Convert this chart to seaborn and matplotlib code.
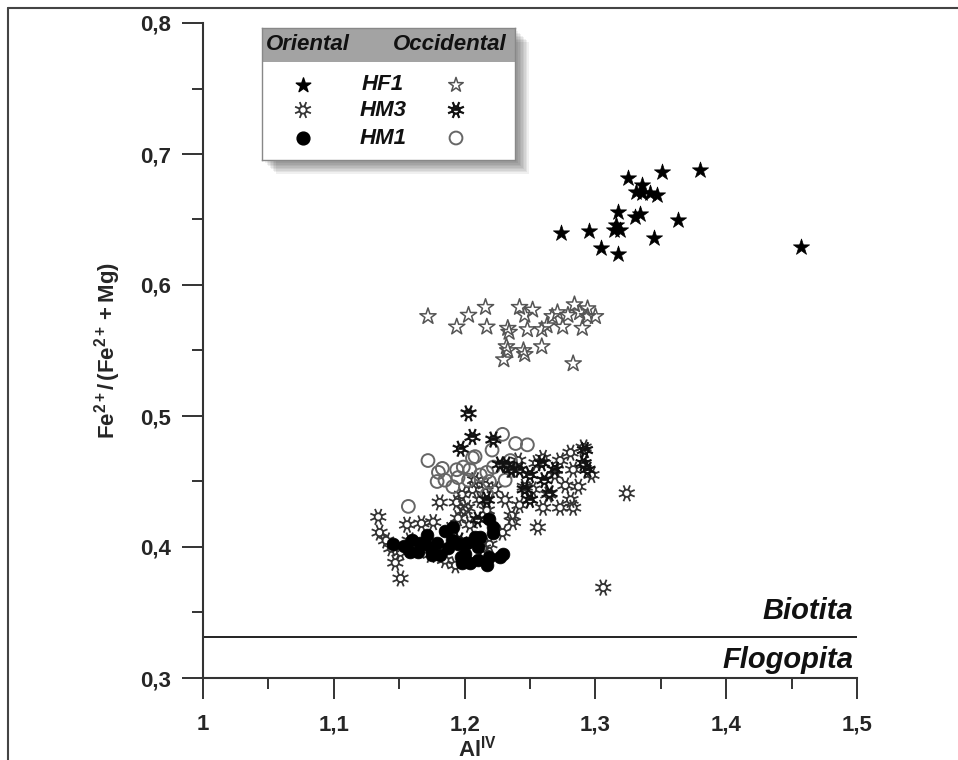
import numpy as np
import pandas as pd
import matplotlib
matplotlib.use("Agg")
import matplotlib.pyplot as plt
import seaborn as sns
from matplotlib.path import Path
from matplotlib.patches import Rectangle
from matplotlib.ticker import MultipleLocator, FuncFormatter

sns.set_theme(style="ticks")
plt.rcParams["font.family"] = ["Liberation Sans", "DejaVu Sans"]
plt.rcParams["mathtext.fontset"] = "custom"
plt.rcParams["mathtext.bf"] = "Liberation Sans:bold"
plt.rcParams["mathtext.rm"] = "Liberation Sans"
plt.rcParams["mathtext.it"] = "Liberation Sans:italic"

# ---------------- data ----------------
hf1_or_x = [1.274, 1.295, 1.304, 1.317, 1.314, 1.319, 1.317, 1.316, 1.325, 1.331,
            1.336, 1.336, 1.342, 1.347, 1.351, 1.330, 1.334, 1.345, 1.363, 1.380, 1.457]
hf1_or_y = [0.640, 0.641, 0.628, 0.656, 0.642, 0.642, 0.624, 0.646, 0.682, 0.671,
            0.676, 0.670, 0.670, 0.669, 0.686, 0.652, 0.654, 0.636, 0.650, 0.688, 0.629]

hf1_oc_x = [1.172, 1.194, 1.203, 1.216, 1.217, 1.233, 1.234, 1.242, 1.246, 1.252,
            1.248, 1.232, 1.233, 1.230, 1.245, 1.246, 1.259, 1.259, 1.263, 1.267,
            1.271, 1.275, 1.279, 1.284, 1.288, 1.290, 1.294, 1.294, 1.300, 1.283]
hf1_oc_y = [0.576, 0.568, 0.577, 0.583, 0.568, 0.567, 0.564, 0.583, 0.577, 0.581,
            0.566, 0.553, 0.550, 0.543, 0.550, 0.547, 0.553, 0.566, 0.569, 0.576,
            0.579, 0.568, 0.577, 0.585, 0.579, 0.567, 0.582, 0.576, 0.576, 0.540]

hm3_or_x = [1.134, 1.135, 1.144, 1.140, 1.151, 1.147, 1.151, 1.156, 1.158, 1.167,
            1.176, 1.181, 1.194, 1.198, 1.195, 1.200, 1.189, 1.204, 1.212, 1.202,
            1.217, 1.206, 1.229, 1.236, 1.237, 1.235, 1.241, 1.246, 1.252, 1.255,
            1.260, 1.256, 1.260, 1.273, 1.283, 1.281, 1.287, 1.291, 1.281, 1.283,
            1.297, 1.324, 1.306, 1.269, 1.273, 1.277, 1.264, 1.242, 1.223, 1.216,
            1.208, 1.231, 1.174, 1.185, 1.193, 1.214, 1.219]
hm3_or_y = [0.423, 0.411, 0.399, 0.405, 0.396, 0.388, 0.376, 0.417, 0.405, 0.418,
            0.419, 0.434, 0.434, 0.440, 0.422, 0.428, 0.413, 0.417, 0.436, 0.430,
            0.428, 0.444, 0.411, 0.424, 0.419, 0.459, 0.466, 0.446, 0.444, 0.464,
            0.468, 0.415, 0.430, 0.430, 0.430, 0.436, 0.446, 0.476, 0.472, 0.459,
            0.455, 0.441, 0.369, 0.455, 0.466, 0.447, 0.440, 0.432, 0.444, 0.447,
            0.451, 0.436, 0.394, 0.390, 0.386, 0.399, 0.402]

hm3_oc_x = [1.203, 1.206, 1.222, 1.197, 1.227, 1.232, 1.236, 1.246, 1.259, 1.261,
            1.265, 1.292, 1.291, 1.294, 1.217, 1.210, 1.250, 1.242, 1.269, 1.250, 1.196]
hm3_oc_y = [0.502, 0.484, 0.482, 0.475, 0.463, 0.463, 0.459, 0.444, 0.464, 0.451,
            0.441, 0.474, 0.464, 0.459, 0.436, 0.421, 0.455, 0.459, 0.459, 0.436, 0.405]

hm1_or_x = [1.145, 1.154, 1.160, 1.166, 1.164, 1.171, 1.174, 1.179, 1.181, 1.185,
            1.190, 1.191, 1.187, 1.195, 1.197, 1.200, 1.202, 1.204, 1.208, 1.210,
            1.210, 1.212, 1.217, 1.219, 1.219, 1.222, 1.222, 1.227, 1.229, 1.198,
            1.175, 1.158, 1.170]
hm1_or_y = [0.402, 0.401, 0.405, 0.403, 0.396, 0.409, 0.399, 0.403, 0.394, 0.412,
            0.405, 0.415, 0.399, 0.402, 0.392, 0.395, 0.403, 0.388, 0.408, 0.400,
            0.390, 0.408, 0.386, 0.392, 0.421, 0.415, 0.411, 0.392, 0.395, 0.388,
            0.394, 0.396, 0.402]

hm1_oc_x = [1.172, 1.157, 1.180, 1.183, 1.179, 1.185, 1.194, 1.199, 1.206, 1.204,
            1.203, 1.212, 1.217, 1.222, 1.221, 1.229, 1.239, 1.248, 1.208, 1.191,
            1.231, 1.219, 1.217, 1.235, 1.195]
hm1_oc_y = [0.466, 0.431, 0.457, 0.460, 0.450, 0.451, 0.459, 0.461, 0.468, 0.459,
            0.451, 0.455, 0.457, 0.461, 0.474, 0.486, 0.479, 0.478, 0.469, 0.446,
            0.451, 0.450, 0.440, 0.466, 0.453]

boundary_y = 0.331
x_ticks = [1.0, 1.1, 1.2, 1.3, 1.4, 1.5]
y_ticks = [0.3, 0.4, 0.5, 0.6, 0.7, 0.8]
field_labels = ["Biotita", "Flogopita"]
legend_rows = ["HF1", "HM3", "HM1"]
legend_cols = ["Oriental", "Occidental"]

# ---------------- markers ----------------
def gear_path():
    verts, codes = [], []
    t = np.linspace(0, 2 * np.pi, 25)
    for i, a in enumerate(t):
        verts.append((0.42 * np.cos(a), 0.42 * np.sin(a)))
        codes.append(Path.MOVETO if i == 0 else Path.LINETO)
    for k in range(8):
        a = k * np.pi / 4 + np.pi / 8
        verts += [(0.5 * np.cos(a), 0.5 * np.sin(a)), (np.cos(a), np.sin(a))]
        codes += [Path.MOVETO, Path.LINETO]
    return Path(verts, codes)

def half_disk_path():
    t = np.linspace(0, np.pi, 15)
    verts = [(np.cos(a), np.sin(a)) for a in t] + [(1.0, 0.0)]
    codes = [Path.MOVETO] + [Path.LINETO] * (len(t) - 1) + [Path.CLOSEPOLY]
    return Path(verts, codes)

GEAR = gear_path()
HALF = half_disk_path()
S_STAR = 150
S_CIRC = 85
S_GEAR = 130
S_HALF = S_GEAR * 0.42 ** 2

W, H = 958, 760
fig = plt.figure(figsize=(W / 100, H / 100), dpi=100)
ax = fig.add_axes([203 / W, 1 - 678 / H, 654 / W, 655 / H])

def plot_group(x, y, ax, **kw):
    df = pd.DataFrame({"x": x, "y": y})
    sns.scatterplot(data=df, x="x", y="y", ax=ax, legend=False, **kw)

# HM3 oriental (hollow gear)
plot_group(hm3_or_x, hm3_or_y, ax, marker=GEAR, s=S_GEAR, color="#333333",
           facecolor="none", edgecolor="#333333", linewidth=1.3, zorder=3)
# HM3 occidental (dark gear)
plot_group(hm3_oc_x, hm3_oc_y, ax, marker=GEAR, s=S_GEAR, color="#111111",
           facecolor="none", edgecolor="#111111", linewidth=1.6, zorder=4)
plot_group(hm3_oc_x, hm3_oc_y, ax, marker=HALF, s=S_HALF, color="#111111",
           facecolor="#111111", edgecolor="#111111", linewidth=0.5, zorder=4)
# HM1 occidental (hollow circles)
plot_group(hm1_oc_x, hm1_oc_y, ax, marker="o", s=S_CIRC, color="#666666",
           facecolor="none", edgecolor="#666666", linewidth=1.4, zorder=3)
# HM1 oriental (filled circles)
plot_group(hm1_or_x, hm1_or_y, ax, marker="o", s=S_CIRC, color="black",
           facecolor="black", edgecolor="black", linewidth=0.5, zorder=5)
# HF1 occidental (hollow stars)
plot_group(hf1_oc_x, hf1_oc_y, ax, marker="*", s=S_STAR, color="#555555",
           facecolor="none", edgecolor="#555555", linewidth=1.1, zorder=3)
# HF1 oriental (filled stars)
plot_group(hf1_or_x, hf1_or_y, ax, marker="*", s=S_STAR, color="black",
           facecolor="black", edgecolor="black", linewidth=0.5, zorder=5)

# boundary line
ax.axhline(boundary_y, color="#222222", lw=1.4, zorder=2)
ax.text(1.497, boundary_y + 0.0095, field_labels[0], ha="right", va="bottom",
        fontsize=21, fontweight="bold", fontstyle="italic", color="#111111")
ax.text(1.497, boundary_y - 0.0065, field_labels[1], ha="right", va="top",
        fontsize=21, fontweight="bold", fontstyle="italic", color="#111111")

ax.set_xlim(1.0, 1.5)
ax.set_ylim(0.3, 0.8)
ax.set_xticks(x_ticks)
ax.set_yticks(y_ticks)
ax.xaxis.set_minor_locator(MultipleLocator(0.05))
ax.yaxis.set_minor_locator(MultipleLocator(0.05))
fmt = FuncFormatter(lambda v, p: f"{v:g}".replace(".", ","))
ax.xaxis.set_major_formatter(fmt)
ax.yaxis.set_major_formatter(fmt)
ax.tick_params(which="major", length=15, width=1.4, color="#333333",
               labelsize=16, direction="out")
ax.tick_params(axis="x", which="major", pad=11)
ax.tick_params(axis="y", which="major", pad=8)
ax.tick_params(which="minor", length=8, width=1.4, color="#333333", direction="out")
for lab in ax.get_xticklabels() + ax.get_yticklabels():
    lab.set_fontweight("bold")
for side in ["top", "right"]:
    ax.spines[side].set_visible(False)
for side in ["left", "bottom"]:
    ax.spines[side].set_linewidth(1.5)
    ax.spines[side].set_color("#333333")
ax.set_facecolor("white")
ax.set_xlabel(r"$\mathbf{Al^{IV}}$", fontsize=16, va="center")
ax.xaxis.set_label_coords(0.419, -0.107)
ax.set_ylabel(r"$\mathbf{Fe^{2+}/\,(Fe^{2+}+Mg)}$", fontsize=16, labelpad=12)

# figure frame (left/top)
fig.add_artist(plt.Line2D([8 / W, 8 / W], [0, 1 - 8 / H], color="#444444", lw=1.5,
                          transform=fig.transFigure))
fig.add_artist(plt.Line2D([8 / W, 1], [1 - 8 / H, 1 - 8 / H], color="#444444", lw=1.5,
                          transform=fig.transFigure))

# ---------------- legend box ----------------
bx0, by0, bw, bh = 262, 28, 253, 132
for i in range(8):
    off = 3 + i * 1.5
    fig.add_artist(Rectangle(((bx0 + off) / W, 1 - (by0 + bh + off) / H),
                             bw / W, bh / H, transform=fig.transFigure,
                             facecolor="black", alpha=0.06, edgecolor="none", zorder=8))
lax = fig.add_axes([bx0 / W, 1 - (by0 + bh) / H, bw / W, bh / H], zorder=10)
lax.set_xlim(0, bw)
lax.set_ylim(bh, 0)
lax.set_xticks([])
lax.set_yticks([])
lax.set_facecolor("white")
for sp in lax.spines.values():
    sp.set_color("#888888")
    sp.set_linewidth(1.0)
lax.add_patch(Rectangle((0, 0), bw, 34, facecolor="#a3a3a3", edgecolor="none"))
lax.text(4, 17, legend_cols[0], ha="left", va="center", fontsize=16,
         fontweight="bold", fontstyle="italic", color="#111111")
lax.text(bw - 8, 17, legend_cols[1], ha="right", va="center", fontsize=16,
         fontweight="bold", fontstyle="italic", color="#111111")
row_y = [57, 82, 110]
mx_or, mx_oc, lx = 41, 194, 121
for name, yy in zip(legend_rows, row_y):
    lax.text(lx, yy, name, ha="center", va="center", fontsize=16,
             fontweight="bold", fontstyle="italic", color="#111111")
lax.scatter([mx_or], [row_y[0]], marker="*", s=S_STAR * 0.8, color="black")
lax.scatter([mx_oc], [row_y[0]], marker="*", s=S_STAR * 0.8, facecolor="none",
            edgecolor="#555555", linewidth=1.1)
lax.scatter([mx_or], [row_y[1]], marker=GEAR, s=S_GEAR, facecolor="none",
            edgecolor="#333333", linewidth=1.3)
lax.scatter([mx_oc], [row_y[1]], marker=GEAR, s=S_GEAR, facecolor="none",
            edgecolor="#111111", linewidth=1.6)
lax.scatter([mx_oc], [row_y[1]], marker=HALF, s=S_HALF, facecolor="#111111",
            edgecolor="#111111", linewidth=0.5)
lax.scatter([mx_or], [row_y[2]], marker="o", s=S_CIRC, color="black")
lax.scatter([mx_oc], [row_y[2]], marker="o", s=S_CIRC, facecolor="none",
            edgecolor="#666666", linewidth=1.4)

fig.savefig("out.png", dpi=100, facecolor="white")
